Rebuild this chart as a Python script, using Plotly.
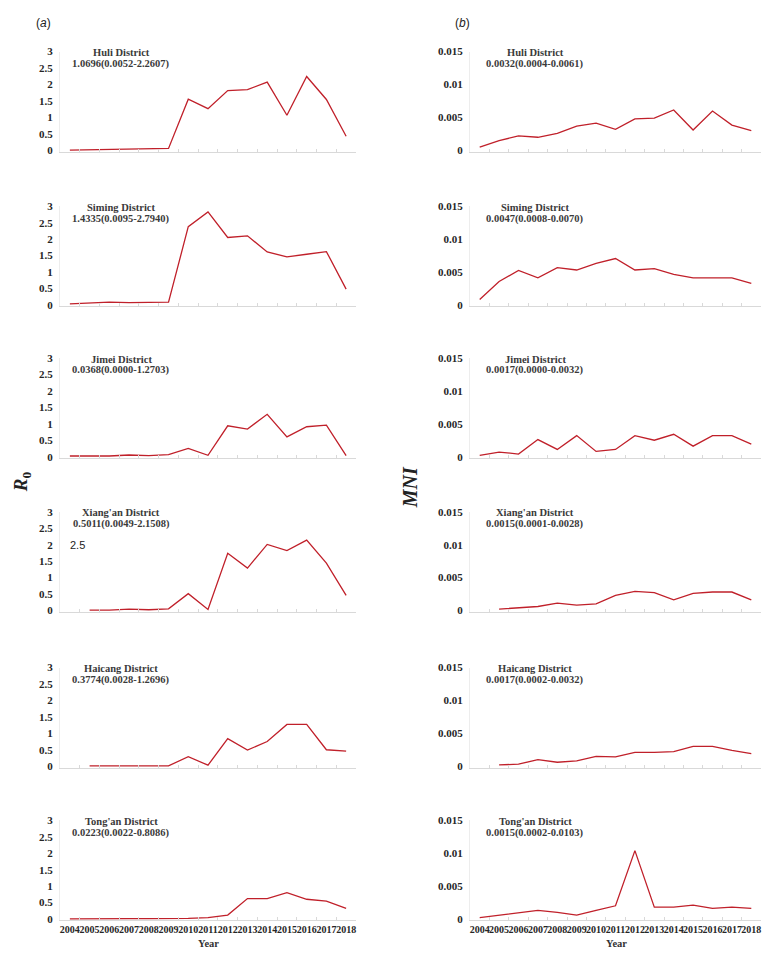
import plotly.graph_objects as go

# ---------------- data ----------------
years = [str(y) for y in range(2004, 2019)]
districts = ["Huli District", "Siming District", "Jimei District",
             "Xiang'an District", "Haicang District", "Tong'an District"]
r0_summary = ["1.0696(0.0052-2.2607)", "1.4335(0.0095-2.7940)", "0.0368(0.0000-1.2703)",
              "0.5011(0.0049-2.1508)", "0.3774(0.0028-1.2696)", "0.0223(0.0022-0.8086)"]
mni_summary = ["0.0032(0.0004-0.0061)", "0.0047(0.0008-0.0070)", "0.0017(0.0000-0.0032)",
               "0.0015(0.0001-0.0028)", "0.0017(0.0002-0.0032)", "0.0015(0.0002-0.0103)"]

r0_huli = [0.0, 0.01, 0.01, 0.01, 0.02, 0.05, 1.55, 1.26, 1.81, 1.84, 2.07, 1.06, 2.24, 1.54, 0.42]
r0_siming = [0.03, 0.05, 0.08, 0.07, 0.08, 0.08, 2.38, 2.83, 2.05, 2.10, 1.61, 1.46, 1.54, 1.62, 0.48]
r0_jimei = [0.02, 0.02, 0.02, 0.05, 0.03, 0.06, 0.25, 0.04, 0.94, 0.84, 1.29, 0.60, 0.91, 0.96, 0.03]
r0_xiangan = [None, 0.01, 0.01, 0.04, 0.02, 0.05, 0.51, 0.03, 1.74, 1.29, 2.01, 1.82, 2.14, 1.44, 0.46]
r0_haicang = [None, 0.01, 0.01, 0.01, 0.01, 0.01, 0.29, 0.03, 0.84, 0.49, 0.75, 1.27, 1.27, 0.50, 0.46]
r0_tongan = [0.0, 0.01, 0.01, 0.01, 0.01, 0.01, 0.02, 0.04, 0.12, 0.62, 0.62, 0.80, 0.60, 0.54, 0.32]

mni_huli = [0.00045, 0.00145, 0.00215, 0.00195, 0.00255, 0.00365, 0.0041, 0.00315,
            0.00475, 0.00485, 0.0061, 0.00305, 0.00595, 0.0038, 0.00295]
mni_siming = [0.0008, 0.00355, 0.00525, 0.0041, 0.00565, 0.0053, 0.0063, 0.00705,
              0.0053, 0.0055, 0.00465, 0.0041, 0.0041, 0.0041, 0.00325]
mni_jimei = [0.0002, 0.0007, 0.0004, 0.0026, 0.0011, 0.0032, 0.0008, 0.0011,
             0.0032, 0.0025, 0.0034, 0.0016, 0.0032, 0.0032, 0.0019]
mni_xiangan = [None, 0.0002, 0.0004, 0.0006, 0.0011, 0.0008, 0.0010, 0.0023,
               0.0029, 0.0027, 0.0016, 0.0026, 0.0028, 0.0028, 0.0016]
mni_haicang = [None, 0.0002, 0.0003, 0.0010, 0.0006, 0.0008, 0.0015, 0.0014,
               0.0021, 0.0021, 0.0022, 0.0030, 0.0030, 0.0024, 0.0019]
mni_tongan = [0.0002, 0.0006, 0.0009, 0.0013, 0.0010, 0.0006, 0.0013, 0.0020,
              0.0104, 0.0018, 0.0018, 0.0021, 0.0016, 0.0018, 0.0016]

r0_series = [r0_huli, r0_siming, r0_jimei, r0_xiangan, r0_haicang, r0_tongan]
mni_series = [mni_huli, mni_siming, mni_jimei, mni_xiangan, mni_haicang, mni_tongan]

r0_ticks = [0, 0.5, 1, 1.5, 2, 2.5, 3]
r0_ticktext = ["0", "0.5", "1", "1.5", "2", "2.5", "3"]
mni_ticks = [0, 0.005, 0.01, 0.015]
mni_ticktext = ["0", "0.005", "0.01", "0.015"]

# ---------------- layout geometry (reference pixels) ----------------
PAGE_MARGIN = 8          # browser default body margin
W, H = 771 - 2 * PAGE_MARGIN, 963 - 2 * PAGE_MARGIN
Y_SCALE, Y_OFF = 0.9897, 5.56   # observed vertical fit of the page in the photo
tops = [51, 208, 362, 518, 676, 831]
PH = 100
left_x = (60, 356)
right_x = (470, 761)
LINE = "#C0202A"
SERIF = "Liberation Serif"
TXT = "#262626"


def px_x(p):
    return min(1.0, max(0.0, (p - PAGE_MARGIN) / W))


def squeeze(p):
    # slightly compress the stack so the bottom titles fit on the page
    return p if p <= 51 else 51 + (p - 51) * 0.986


def fy(p):
    # reference pixel -> figure pixel
    return (squeeze(p) - Y_OFF) / Y_SCALE - PAGE_MARGIN


def px_y(p):
    return min(1.0, max(0.0, 1 - fy(p) / H))


fig = go.Figure()
layout = dict(
    width=W, height=H, margin=dict(l=0, r=0, t=0, b=0),
    paper_bgcolor="white", plot_bgcolor="white", showlegend=False,
)
annotations = []

n = 0
for col, (series, ticks, ticktext, ymax, summ, xr) in enumerate([
        (r0_series, r0_ticks, r0_ticktext, 3.0, r0_summary, left_x),
        (mni_series, mni_ticks, mni_ticktext, 0.015, mni_summary, right_x)]):
    for row in range(6):
        n += 1
        xa = "x" if n == 1 else f"x{n}"
        ya = "y" if n == 1 else f"y{n}"
        fig.add_trace(go.Scatter(
            x=years, y=series[row], mode="lines", xaxis=xa, yaxis=ya,
            line=dict(color=LINE, width=1.3), connectgaps=False, hoverinfo="skip"))
        T = tops[row]
        ext = ymax * 0.015
        bottom_px = T + PH + PH * 0.015
        layout["xaxis" if n == 1 else f"xaxis{n}"] = dict(
            domain=[px_x(xr[0]), px_x(xr[1])], anchor=ya,
            type="category", categoryorder="array", categoryarray=years,
            range=[-0.5, 14.5], showgrid=False, zeroline=False,
            showline=True, linecolor="#D9D9D9", linewidth=1,
            ticks="inside", ticklen=3, tickcolor="#D9D9D9", tickson="boundaries",
            showticklabels=(row == 5), tickangle=0,
            tickfont=dict(family=SERIF, size=10, color=TXT, weight="bold"),
        )
        layout["yaxis" if n == 1 else f"yaxis{n}"] = dict(
            domain=[px_y(bottom_px), px_y(T)], anchor=xa,
            range=[-ext, ymax], showgrid=False, zeroline=False,
            showline=True, linecolor="#EDEDED", linewidth=1,
            ticks="", tickvals=ticks, ticktext=ticktext,
            ticklabelstandoff=4,
            tickfont=dict(family=SERIF, size=11, color=TXT, weight="bold"),
        )
        cx = 121 if col == 0 else 535
        annotations.append(dict(
            xref="paper", yref="paper", x=px_x(cx), y=px_y(T + 1),
            text=f"<b>{districts[row]}</b>", showarrow=False,
            xanchor="center", yanchor="middle",
            font=dict(family=SERIF, size=10.5, color="#3a3a3a")))
        annotations.append(dict(
            xref="paper", yref="paper", x=px_x(cx), y=px_y(T + 12.5),
            text=f"<b>{summ[row]}</b>", showarrow=False,
            xanchor="center", yanchor="middle",
            font=dict(family=SERIF, size=10.5, color="#3a3a3a")))

# panel labels (at the very top of the page)
for cx, lab in ((43, "(<i>a</i>)"), (462, "(<i>b</i>)")):
    annotations.append(dict(xref="paper", yref="paper", x=px_x(cx), y=1,
                            text=lab, showarrow=False, xanchor="center", yanchor="top",
                            font=dict(family="Liberation Sans", size=12, color="#222")))
# y-axis titles
annotations.append(dict(xref="paper", yref="paper", x=0, y=px_y(488),
                        text="<b><i>R</i></b><sub><b>0</b></sub>", showarrow=False,
                        textangle=-90, xanchor="left", yanchor="middle",
                        font=dict(family=SERIF, size=19, color="#222")))
annotations.append(dict(xref="paper", yref="paper", x=px_x(410), y=px_y(493),
                        text="<b><i>MNI</i></b>", showarrow=False,
                        textangle=-90, xanchor="center", yanchor="middle",
                        font=dict(family=SERIF, size=20, color="#222")))
# x-axis titles (at the very bottom of the page)
for cx in (208, 616):
    annotations.append(dict(xref="paper", yref="paper", x=px_x(cx), y=0,
                            text="<b>Year</b>", showarrow=False, xanchor="center", yanchor="bottom",
                            font=dict(family=SERIF, size=10.5, color="#333")))
# stray label in Xiang'an panel
annotations.append(dict(xref="paper", yref="paper", x=px_x(77), y=px_y(552),
                        text="2.5", showarrow=False, xanchor="center", yanchor="middle",
                        font=dict(family="Liberation Sans", size=11, color="#222")))

layout["annotations"] = annotations
fig.update_layout(**layout)
fig.write_html("out.html")
